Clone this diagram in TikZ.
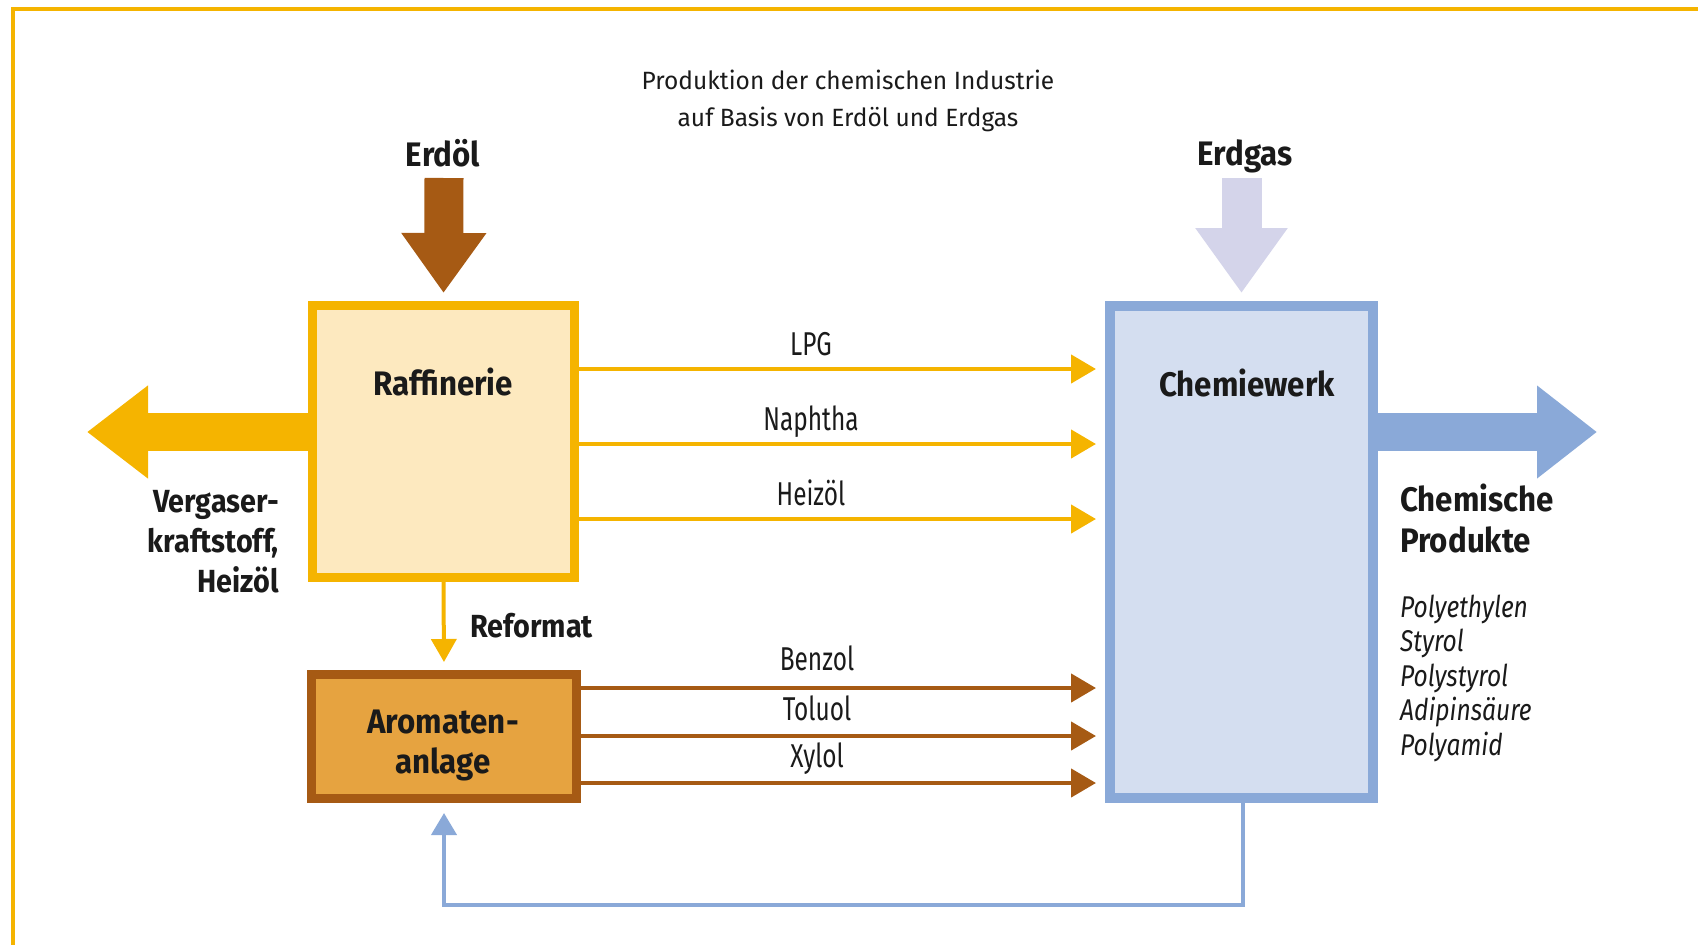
\documentclass[tikz,border=0pt]{standalone}
\usepackage{fontspec}
\setmainfont{Fira Sans}
\newfontfamily\freg{Fira Sans}[FakeStretch=0.74]
\newfontfamily\ftitle{Fira Sans}[FakeStretch=0.98]
\newfontfamily\fbold{Fira Sans}[FakeStretch=0.9]
\newfontfamily\fboldb{Fira Sans}[FakeStretch=0.92]
\newfontfamily\fital{Fira Sans}[FakeStretch=0.82]
\usetikzlibrary{arrows.meta}
\definecolor{gelb}{HTML}{F5B400}
\definecolor{gelbhell}{HTML}{FDE9BF}
\definecolor{braun}{HTML}{A65A14}
\definecolor{braunhell}{HTML}{E6A340}
\definecolor{blau}{HTML}{8AA9D8}
\definecolor{blauhell}{HTML}{D4DEF0}
\definecolor{lila}{HTML}{D4D4EA}
\definecolor{textdunkel}{HTML}{1A1A1A}
\tikzset{
  boxnode/.style={rectangle, inner sep=0pt},
  reglabel/.style={font=\freg\fontsize{33}{39}\selectfont, text=textdunkel, anchor=base, inner sep=0pt},
  boldlabel/.style={font=\fbold\bfseries\fontsize{32}{40}\selectfont, text=textdunkel, anchor=base, inner sep=0pt},
  boxlabel/.style={font=\fboldb\bfseries\fontsize{34}{40}\selectfont, text=textdunkel, anchor=base, inner sep=0pt},
  itlabel/.style={font=\fital\itshape\fontsize{30}{34.5}\selectfont, text=textdunkel, anchor=base west, inner sep=0pt, align=left},
  flowY/.style={draw=gelb, line width=4.5pt, -{Triangle[length=25pt,width=28pt]}, color=gelb},
  flowB/.style={draw=braun, line width=4.5pt, -{Triangle[length=25pt,width=28pt]}, color=braun},
}
\begin{document}
\begin{tikzpicture}[x=1pt,y=-1pt]
\path[use as bounding box] (0,0) rectangle (1698,945);
% frame
\draw[gelb, line width=4pt] (13,945) -- (13,9) -- (1698,9);

% boxes
\node[boxnode, draw=gelb, fill=gelbhell, line width=9pt, minimum width=262pt, minimum height=272pt] (raff) at (443.5,441.5) {};
\node[boxnode, draw=blau, fill=blauhell, line width=10pt, minimum width=263pt, minimum height=492pt] (chem) at (1241.5,552) {};
\node[boxnode, draw=braun, fill=braunhell, line width=9pt, minimum width=265pt, minimum height=124pt] (arom) at (444,736.5) {};

% box labels
\node[boxlabel] (raffT) at (443,395) {Raffinerie};
\node[boxlabel] (chemT) at (1247,396) {Chemiewerk};
\node[boxlabel, align=center] (aromT) at (443,773) {Aromaten-\\anlage};

% title
\node[anchor=base, inner sep=0pt, text=textdunkel, align=center, font=\ftitle\fontsize{25}{37}\selectfont] (title) at (848,126) {Produktion der chemischen Industrie\\auf Basis von Erdöl und Erdgas};

% input labels
\node[boxlabel] (erdoelT) at (443,166) {Erdöl};
\node[boxlabel] (erdgasT) at (1245,165) {Erdgas};

% big arrows
\coordinate (erdoelS) at (444,178);
\draw[braun, line width=39pt, -{Triangle[length=60pt,width=81pt]}, shorten >=8pt] (erdoelS) -- (raff.north);
\coordinate (erdgasS) at (1241.5,178);
\draw[lila, line width=40pt, -{Triangle[length=65pt,width=88pt]}, shorten >=8pt] (erdgasS) -- (chem.north);
\coordinate (vgEnd) at (87,432);
\draw[gelb, line width=38pt, -{Triangle[length=61pt,width=89pt]}] (raff.west |- vgEnd) -- (vgEnd);
\coordinate (cpEnd) at (1597,432);
\draw[blau, line width=38pt, -{Triangle[length=60pt,width=89pt]}] (chem.east |- cpEnd) -- (cpEnd);

% side labels
\node[boldlabel, align=right, anchor=base east] (vgT) at (279,592) {Vergaser-\\kraftstoff,\\Heizöl};
\node[boxlabel, align=left, anchor=base west, font=\fboldb\bfseries\fontsize{34}{41}\selectfont] (cpT) at (1400,552) {Chemische\\Produkte};
\node[itlabel] (listT) at (1400,755) {Polyethylen\\Styrol\\Polystyrol\\Adipinsäure\\Polyamid};

% flows from Raffinerie
\coordinate (yLPG) at (0,369);
\coordinate (yNap) at (0,444);
\coordinate (yHei) at (0,519);
\draw[flowY, shorten >=9pt] (raff.east |- yLPG) -- (chem.west |- yLPG);
\draw[flowY, shorten >=9pt] (raff.east |- yNap) -- (chem.west |- yNap);
\draw[flowY, shorten >=9pt] (raff.east |- yHei) -- (chem.west |- yHei);
\node[reglabel] (lpgT) at (811,355) {LPG};
\node[reglabel] (napT) at (811,430) {Naphtha};
\node[reglabel] (heiT) at (811,505) {Heizöl};

% flows from Aromatenanlage
\coordinate (yBen) at (0,688);
\coordinate (yTol) at (0,736);
\coordinate (yXyl) at (0,783);
\draw[flowB, shorten >=9pt] (arom.east |- yBen) -- (chem.west |- yBen);
\draw[flowB, shorten >=9pt] (arom.east |- yTol) -- (chem.west |- yTol);
\draw[flowB, shorten >=9pt] (arom.east |- yXyl) -- (chem.west |- yXyl);
\node[reglabel] (benT) at (817,670) {Benzol};
\node[reglabel] (tolT) at (817,720) {Toluol};
\node[reglabel] (xylT) at (817,767) {Xylol};

% Reformat
\draw[gelb, line width=4pt, -{Triangle[length=23pt,width=25pt]}, shorten >=8pt] (raff.south) -- (arom.north);
\node[boldlabel, anchor=base west] (refT) at (470,637) {Reformat};

% feedback
\coordinate (fb1) at (1243,905);
\draw[blau, line width=4pt, -{Triangle[length=22pt,width=25pt]}, shorten >=10pt] (chem.south -| fb1) -- (fb1) -| (arom.south);
\end{tikzpicture}
\end{document}
